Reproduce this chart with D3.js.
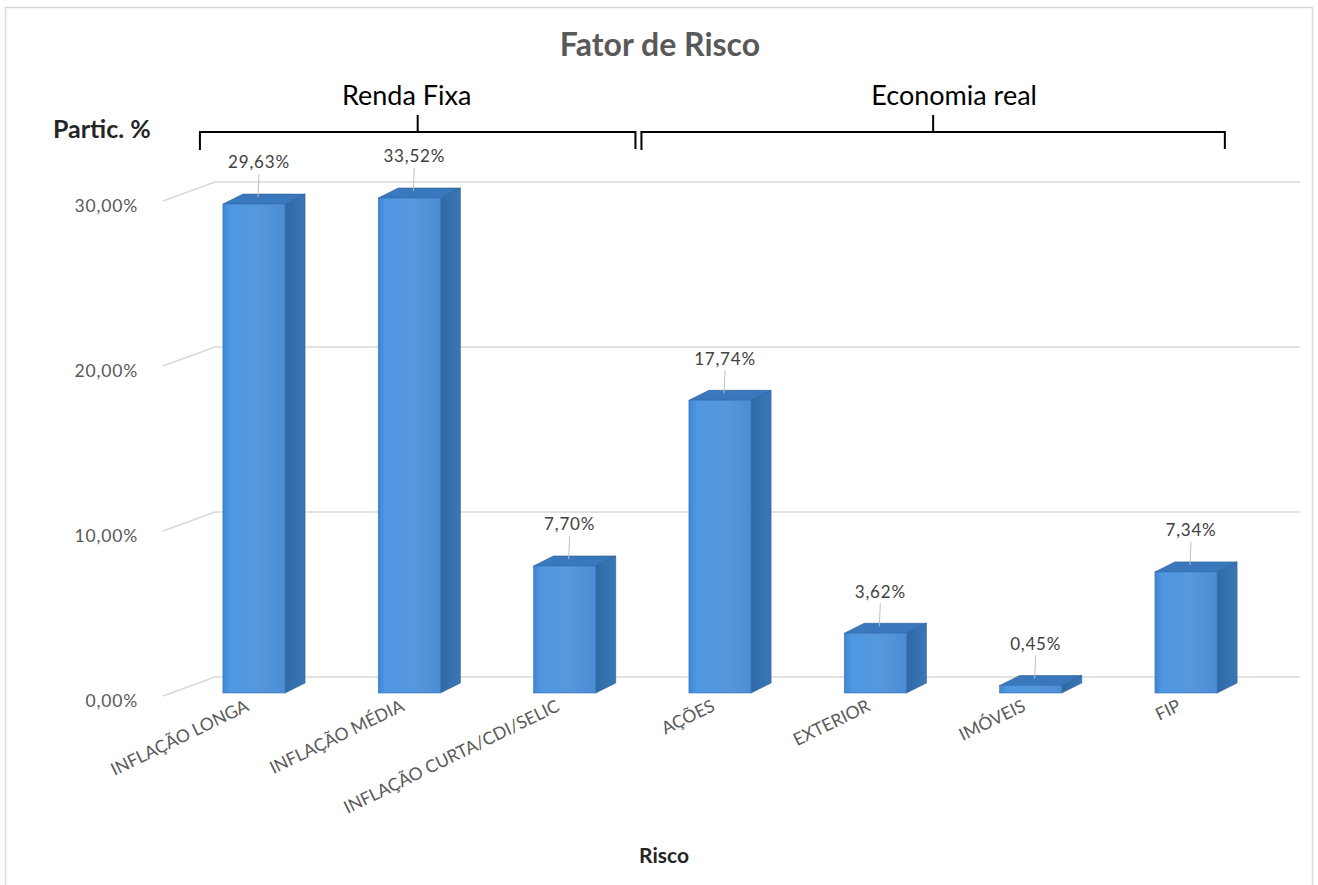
<!DOCTYPE html>
<html><head><meta charset="utf-8">
<script src="https://cdn.jsdelivr.net/npm/d3@7"></script>
<style>
body{margin:0;background:#fff;}
svg{display:block;}
text{font-family:Lato,"Liberation Sans",sans-serif;}
</style>
</head><body>
<svg id="c" width="1318" height="885"></svg>
<script>
// ---- data ----
const categories = ["INFLAÇÃO LONGA","INFLAÇÃO MÉDIA","INFLAÇÃO CURTA/CDI/SELIC","AÇÕES","EXTERIOR","IMÓVEIS","FIP"];
const values = [29.63, 33.52, 7.70, 17.74, 3.62, 0.45, 7.34];
const valueLabels = ["29,63%","33,52%","7,70%","17,74%","3,62%","0,45%","7,34%"];
const yTicks = [0, 10, 20, 30];
const yTickLabels = ["0,00%","10,00%","20,00%","30,00%"];
const groupLabels = ["Renda Fixa","Economia real"];
const groupFirst = [0, 3];
const groupLast = [2, 6];
const chartTitle = "Fator de Risco";
const yTitle = "Partic. %";
const xTitle = "Risco";

// ---- layout ----
const svg = d3.select("#c");
const W = 1318, H = 885;
const x = d3.scaleBand().domain(categories).range([160, 1280]).paddingInner(0.6).paddingOuter(0.405);
const y = d3.scaleLinear().domain([0, 30]).range([693, 198]);
const bw = x.bandwidth(), step = x.step();
const dx = 20, dy = -10;      // bar depth
const wallDy = -16;           // back wall offset
const wallX = 215, gridRight = 1300, sideX = 163;

// defs
const defs = svg.append("defs");
const g1 = defs.append("linearGradient").attr("id","front").attr("x1","0").attr("x2","1").attr("y1","0").attr("y2","0");
g1.append("stop").attr("offset","0").attr("stop-color","#3f86d2");
g1.append("stop").attr("offset","0.12").attr("stop-color","#4f97e2");
g1.append("stop").attr("offset","0.55").attr("stop-color","#5598dc");
g1.append("stop").attr("offset","1").attr("stop-color","#4a8dd4");
const g2 = defs.append("linearGradient").attr("id","side").attr("x1","0").attr("x2","1").attr("y1","0").attr("y2","0");
g2.append("stop").attr("offset","0").attr("stop-color","#2f6aa6");
g2.append("stop").attr("offset","1").attr("stop-color","#3a77b6");

// background + border
svg.append("rect").attr("x",0).attr("y",0).attr("width",W).attr("height",H).attr("fill","#fff");
svg.append("rect").attr("x",5.5).attr("y",7.5).attr("width",1307).attr("height",890)
  .attr("fill","none").attr("stroke","#d9d9d9").attr("stroke-width",1.5);

// gridlines (side wall + back wall)
svg.append("g").selectAll("path").data(yTicks).join("path")
  .attr("d", v => `M${sideX},${y(v)+3}L${wallX},${y(v)+wallDy}L${gridRight},${y(v)+wallDy}`)
  .attr("fill","none").attr("stroke","#d9d9d9").attr("stroke-width",1.6);

// y tick labels
svg.append("g").selectAll("text").data(yTicks).join("text")
  .attr("x", 138).attr("y", v => y(v) + 10)
  .attr("text-anchor","end").attr("dominant-baseline","middle")
  .attr("font-size",17.5).attr("letter-spacing",0.8).attr("fill","#595959")
  .text((v,i) => yTickLabels[i]);

// bars
const bars = svg.append("g").selectAll("g").data(categories).join("g");
const barTop = i => y(Math.min(values[i], y.domain()[1]));
bars.append("polygon") // side
  .attr("points", (c,i) => {
    const x1 = x(c) + bw, yt = barTop(i), yb = y(0);
    return [[x1,yt],[x1+dx,yt+dy],[x1+dx,yb+dy],[x1,yb]].join(" ");
  })
  .attr("fill","url(#side)").attr("stroke","#2a5d94").attr("stroke-width",0.6);
bars.append("polygon") // top
  .attr("points", (c,i) => {
    const x0 = x(c), yt = barTop(i);
    return [[x0,yt],[x0+dx,yt+dy],[x0+bw+dx,yt+dy],[x0+bw,yt]].join(" ");
  })
  .attr("fill","#3a78bd").attr("stroke","#2a5d94").attr("stroke-width",0.6);
bars.append("rect") // front
  .attr("x", c => x(c)).attr("y", (c,i) => barTop(i))
  .attr("width", bw).attr("height", (c,i) => y(0) - barTop(i))
  .attr("fill","url(#front)").attr("stroke","#3573b5").attr("stroke-width",0.6);

// data labels + leader lines
const lx = c => x(c) + bw/2 + 5;
svg.append("g").selectAll("line").data(categories).join("line")
  .attr("x1", lx).attr("x2", c => lx(c) - 1)
  .attr("y1", (c,i) => barTop(i) - 30).attr("y2", (c,i) => barTop(i) - 7)
  .attr("stroke","#bfbfbf").attr("stroke-width",1);
svg.append("g").selectAll("text").data(categories).join("text")
  .attr("x", lx).attr("y", (c,i) => barTop(i) - 40)
  .attr("text-anchor","middle").attr("dominant-baseline","middle")
  .attr("font-size",17).attr("letter-spacing",0.8).attr("fill","#404040")
  .text((c,i) => valueLabels[i]);

// x labels (rotated)
svg.append("g").selectAll("text").data(categories).join("text")
  .attr("transform", c => `translate(${x(c)+bw/2-4},710) rotate(-26)`)
  .attr("text-anchor","end")
  .attr("font-size",17.5).attr("fill","#595959")
  .text(c => c);

// titles
svg.append("text").attr("x",660).attr("y",48).attr("text-anchor","middle").attr("dominant-baseline","middle")
  .attr("font-size",32).attr("font-weight","bold").attr("fill","#595959").text(chartTitle);
svg.append("text").attr("x",53).attr("y",132).attr("dominant-baseline","middle")
  .attr("font-size",25).attr("font-weight","bold").attr("fill","#262626").text(yTitle);
svg.append("text").attr("x",664).attr("y",858).attr("text-anchor","middle").attr("dominant-baseline","middle")
  .attr("font-size",21).attr("font-weight","bold").attr("fill","#262626").text(xTitle);

// group brackets
const boundary = x(categories[2]) + step*0.675;
const gLeft = [x(categories[groupFirst[0]]) - step*0.148, boundary + 3];
const gRight = [boundary - 3, x(categories[groupLast[1]]) + step*0.45];
const labelShift = [-11, 21];
const br = svg.append("g").attr("fill","none").attr("stroke","#000").attr("stroke-width",2);
groupLabels.forEach((lab,i) => {
  const l = gLeft[i], r = gRight[i], m = (l + r)/2;
  br.append("path").attr("d", `M${l},150L${l},132L${r},132L${r},149M${m},132L${m},115`);
  svg.append("text").attr("x", m + labelShift[i]).attr("y", 98).attr("text-anchor","middle").attr("dominant-baseline","middle")
    .attr("font-size",27).attr("fill","#000").text(lab);
});
</script>
</body></html>
